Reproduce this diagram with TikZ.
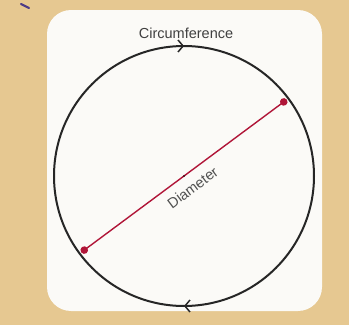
\documentclass[tikz,border=0pt]{standalone}
\usepackage{fontspec}
\setmainfont{Liberation Sans}
\usetikzlibrary{arrows.meta,decorations.markings,calc}
\definecolor{tan}{HTML}{E6C891}
\definecolor{paper}{HTML}{FBFAF7}
\definecolor{diamred}{HTML}{B01538}
\definecolor{txtgray}{HTML}{505050}
\definecolor{penmark}{HTML}{4E3C86}
\tikzset{
  ring/.style={draw=black!85, line width=2pt,
    postaction={decorate, decoration={markings,
      mark=at position 0.25 with {\arrow{Straight Barb[length=5pt,width=12pt,line width=1.5pt]}},
      mark=at position 0.75 with {\arrow{Straight Barb[length=5pt,width=12pt,line width=1.5pt]}}}}},
  diam/.style={draw=diamred, line width=1.4pt, {Circle[length=7.5pt]}-{Circle[length=7.5pt]}},
  lbl/.style={font=\fontsize{14.5}{16}\selectfont, text=txtgray}
}
\begin{document}
\begin{tikzpicture}[x=1pt,y=1pt]
\useasboundingbox (0,0) rectangle (349,325);
\fill[tan] (0,0) rectangle (349,325);
\fill[paper, rounded corners=24pt] (47,14) rectangle (322,315);
\draw[penmark, line width=2.2pt, line cap=round] (21,321) -- (29,317);
\coordinate (c) at (184,149);
% circle drawn clockwise starting from the left
\draw[ring] (c) ++(180:130) arc[start angle=180, end angle=-180, radius=130];
\coordinate (p1) at ($(c)+(216.6:128)$);
\coordinate (p2) at ($(c)+(36.6:128)$);
\draw[diam] (p1) -- node[midway, below=5pt, sloped, lbl] {Diameter} (p2);
\fill[black] (c) circle (0.9pt);
\node[lbl, text=black!75] (circ) at (186,292) {Circumference};
\end{tikzpicture}
\end{document}
